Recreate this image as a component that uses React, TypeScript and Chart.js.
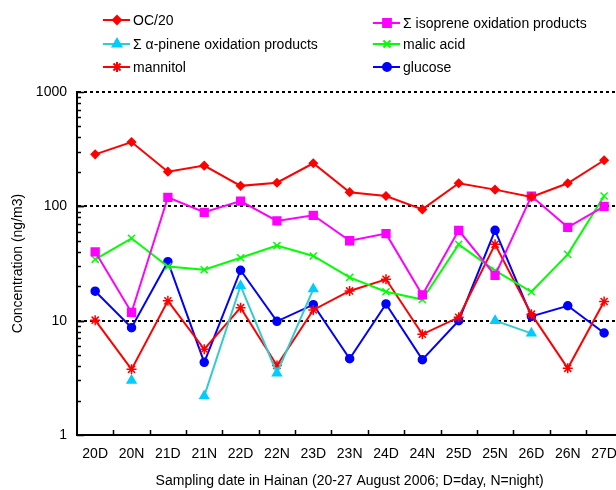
import React, { useEffect, useRef } from "react";
import { Chart, registerables } from "chart.js";
import { drawPoint } from "chart.js/helpers";

Chart.register(...registerables);

const categories = ["20D", "20N", "21D", "21N", "22D", "22N", "23D", "23N", "24D", "24N", "25D", "25N", "26D", "26N", "27D"];

const ocOver20 = [285, 365, 201, 227, 151, 161, 238, 133, 123, 94, 159, 140, 121, 159, 253];
const isoprene = [40, 11.8, 120, 88.7, 111, 74.5, 83.5, 50, 57.7, 16.8, 61.7, 24.9, 123, 65.6, 100];
const alphaPinene = [null, 3.0, null, 2.19, 20.2, 3.47, 18.9, null, null, null, null, 10, 7.75, null, null];
const malicAcid = [34.4, 52.5, 29.7, 27.9, 35.5, 45.3, 36.8, 23.9, 17.9, 15.3, 46.5, 27.4, 17.9, 38, 123];
const mannitol = [10.1, 3.75, 14.9, 5.62, 13.0, 4.06, 12.4, 18.2, 23.0, 7.6, 10.7, 46.5, 11.4, 3.83, 14.7];
const glucose = [18.1, 8.68, 32.8, 4.32, 27.6, 9.87, 13.8, 4.65, 14.0, 4.56, 10.0, 61.7, 10.9, 13.5, 7.8];

const yTicks = [1, 10, 100, 1000];

const FONT = "'Liberation Sans', Arial, Helvetica, sans-serif";

type SeriesStyle = {
  label: string;
  data: (number | null)[];
  line: string;
  marker: string;
  pointStyle: string;
  radius: number;
};

const series: SeriesStyle[] = [
  { label: "OC/20", data: ocOver20, line: "#ff0000", marker: "#ff0000", pointStyle: "rectRot", radius: 4 },
  { label: "\u03A3 isoprene oxidation products", data: isoprene, line: "#ff00ff", marker: "#ff00ff", pointStyle: "rect", radius: 5.5 },
  { label: "\u03A3 \u03B1-pinene oxidation products", data: alphaPinene, line: "#33cccc", marker: "#00ccff", pointStyle: "triangle", radius: 5 },
  { label: "malic acid", data: malicAcid, line: "#00ff00", marker: "#00ff00", pointStyle: "crossRot", radius: 5 },
  { label: "mannitol", data: mannitol, line: "#ff0000", marker: "#ff0000", pointStyle: "star", radius: 5 },
  { label: "glucose", data: glucose, line: "#0000ff", marker: "#0000ff", pointStyle: "circle", radius: 4 },
];

const legendPos = [
  { x: 103, y: 20 },
  { x: 373, y: 23 },
  { x: 103, y: 44 },
  { x: 373, y: 44 },
  { x: 103, y: 67 },
  { x: 373, y: 67 },
];

const decorPlugin = {
  id: "decor",
  afterDraw(chart: any) {
    const ctx = chart.ctx;
    const y = chart.scales.y;
    const x = chart.scales.x;
    const area = chart.chartArea;
    ctx.save();
    ctx.strokeStyle = "#000";
    ctx.lineWidth = 1.5;
    ctx.setLineDash([]);
    for (const dec of [1, 10, 100]) {
      for (let m = 1; m <= 10; m++) {
        const v = dec * m;
        const py = Math.round(y.getPixelForValue(v)) + 0.5;
        const len = m === 1 || m === 10 ? 7 : 4;
        ctx.beginPath();
        ctx.moveTo(area.left, py);
        ctx.lineTo(area.left + len, py);
        ctx.stroke();
      }
    }
    for (let i = 1; i < categories.length; i++) {
      const px = Math.round((x.getPixelForValue(i - 1) + x.getPixelForValue(i)) / 2) + 0.5;
      ctx.beginPath();
      ctx.moveTo(px, area.bottom);
      ctx.lineTo(px, area.bottom - 5);
      ctx.stroke();
    }
    ctx.font = "14px " + FONT;
    ctx.textBaseline = "middle";
    ctx.textAlign = "left";
    series.forEach((s, i) => {
      const p = legendPos[i];
      ctx.strokeStyle = s.line;
      ctx.lineWidth = 2;
      ctx.beginPath();
      ctx.moveTo(p.x, p.y);
      ctx.lineTo(p.x + 27, p.y);
      ctx.stroke();
      ctx.fillStyle = s.marker;
      ctx.strokeStyle = s.marker;
      drawPoint(ctx, { pointStyle: s.pointStyle as any, radius: s.radius, rotation: 0, borderWidth: 1.5 }, p.x + 14, p.y);
      ctx.fillStyle = "#000";
      ctx.fillText(s.label, p.x + 30, p.y + 1);
    });
    ctx.restore();
  },
};

export default function App() {
  const ref = useRef<HTMLCanvasElement | null>(null);
  useEffect(() => {
    document.body.style.margin = "0";
    const canvas = ref.current!;
    const chart = new Chart(canvas, {
      type: "line",
      data: {
        labels: categories,
        datasets: series.map((s) => ({
          label: s.label,
          data: s.data,
          borderColor: s.line,
          backgroundColor: s.marker,
          pointBackgroundColor: s.marker,
          pointBorderColor: s.marker,
          pointStyle: s.pointStyle as any,
          pointRadius: s.radius,
          pointBorderWidth: 1.5,
          borderWidth: 2,
          spanGaps: false,
          tension: 0,
          fill: false,
        })),
      },
      options: {
        animation: false,
        responsive: false,
        devicePixelRatio: 1,
        layout: { padding: { top: 92, left: 6, right: 17.7, bottom: 0 } },
        plugins: { legend: { display: false }, tooltip: { enabled: false } },
        scales: {
          x: {
            type: "category",
            offset: true,
            grid: { display: false, drawTicks: false },
            border: { display: true, color: "#000", width: 2 },
            ticks: {
              color: "#000",
              font: { family: FONT, size: 14 },
              autoSkip: false,
              maxRotation: 0,
              padding: 11,
            },
            title: {
              display: true,
              text: "Sampling date in Hainan (20-27 August 2006; D=day, N=night)",
              color: "#000",
              font: { family: FONT, size: 14 },
              padding: { top: 0, bottom: 0 },
            },
            afterFit(scale: any) {
              scale.height = 55;
            },
          },
          y: {
            type: "logarithmic",
            min: 1,
            max: 1000,
            afterBuildTicks(scale: any) {
              scale.ticks = yTicks.map((v) => ({ value: v }));
            },
            grid: {
              drawTicks: false,
              color: (c: any) => (c.tick && c.tick.value === 1 ? "rgba(0,0,0,0)" : "#000"),
              lineWidth: 2,
            },
            border: { display: true, color: "#000", width: 2, dash: [3, 3] },
            ticks: {
              color: "#000",
              font: { family: FONT, size: 14 },
              padding: 10,
              autoSkip: false,
              callback: (v: any) => String(v),
            },
            title: {
              display: true,
              text: "Concentration (ng/m3)",
              color: "#000",
              font: { family: FONT, size: 14 },
              padding: { top: 4, bottom: 0 },
            },
            afterFit(scale: any) {
              scale.width = 71;
            },
          },
        },
      },
      plugins: [decorPlugin],
    });
    return () => chart.destroy();
  }, []);
  return (
    <div style={{ position: "fixed", left: 0, top: 0, width: 616, height: 490, overflow: "hidden", background: "#fff" }}>
      <canvas ref={ref} width={640} height={490} style={{ width: 640, height: 490, display: "block" }} />
    </div>
  );
}
